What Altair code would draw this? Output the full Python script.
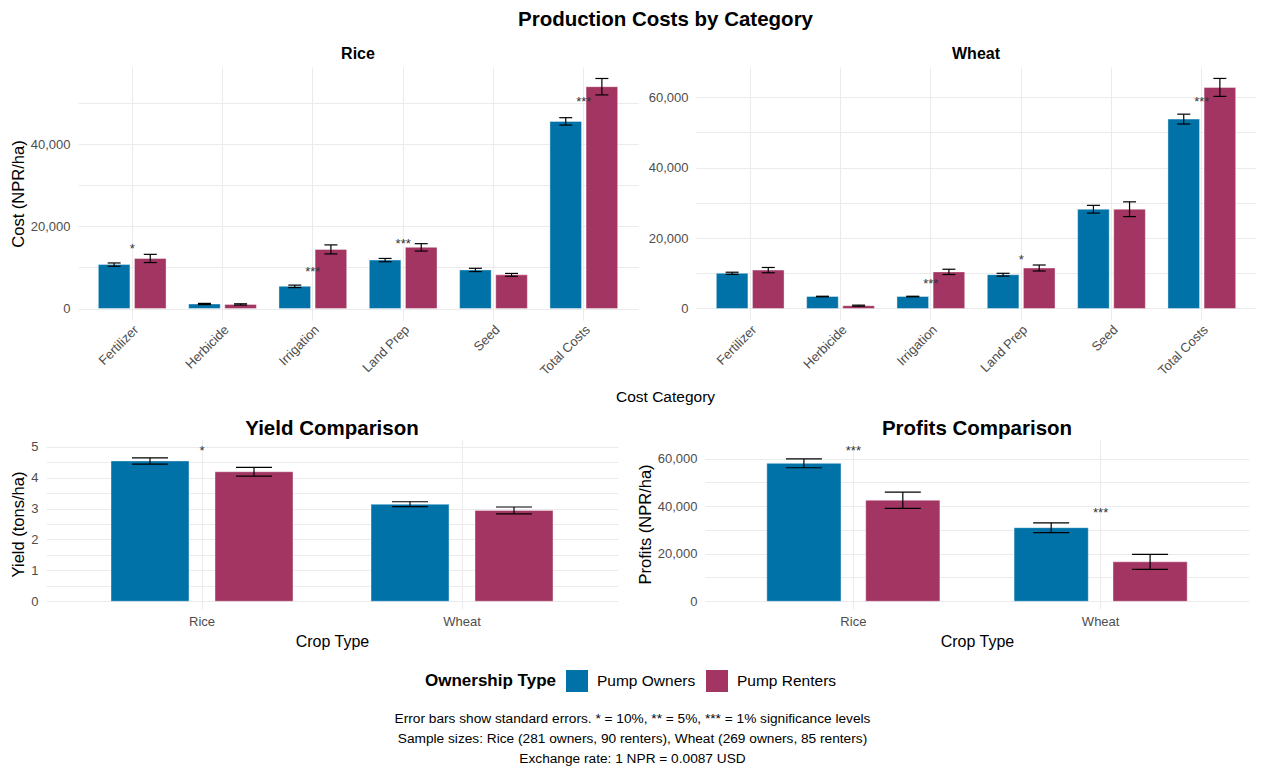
import altair as alt
import pandas as pd

# ---------------- data ----------------
categories = ["Fertilizer", "Herbicide", "Irrigation", "Land Prep", "Seed", "Total Costs"]
groups = ["Pump Owners", "Pump Renters"]
colors = ["#0072A8", "#A23562"]

rice_owner_cost = [10700, 1100, 5400, 11800, 9400, 45600]
rice_owner_se = [400, 150, 300, 400, 400, 900]
rice_renter_cost = [12200, 1000, 14400, 14900, 8200, 54050]
rice_renter_se = [1000, 150, 1100, 900, 350, 2000]

wheat_owner_cost = [10000, 3400, 3400, 9600, 28200, 53800]
wheat_owner_se = [300, 80, 80, 400, 1100, 1400]
wheat_renter_cost = [10900, 800, 10400, 11500, 28200, 62800]
wheat_renter_se = [750, 150, 750, 850, 2100, 2550]

rice_sig_cat = ["Fertilizer", "Irrigation", "Land Prep", "Total Costs"]
rice_sig_label = ["*", "***", "***", "***"]
rice_sig_y = [15400, 9900, 16700, 51200]

wheat_sig_cat = ["Irrigation", "Land Prep", "Total Costs"]
wheat_sig_label = ["***", "*", "***"]
wheat_sig_y = [8200, 14800, 59800]

crops = ["Rice", "Wheat"]
yield_owner = [4.54, 3.14]
yield_owner_se = [0.10, 0.08]
yield_renter = [4.19, 2.94]
yield_renter_se = [0.14, 0.11]

profit_owner = [58000, 30950]
profit_owner_se = [1850, 2050]
profit_renter = [42500, 16600]
profit_renter_se = [3400, 3150]

yield_sig_crop = ["Rice"]
yield_sig_label = ["*"]
yield_sig_y = [5.0]

profit_sig_crop = ["Rice", "Wheat"]
profit_sig_label = ["***", "***"]
profit_sig_y = [65000, 39000]

caption_lines = [
    "Error bars show standard errors. * = 10%, ** = 5%, *** = 1% significance levels",
    "Sample sizes: Rice (281 owners, 90 renters), Wheat (269 owners, 85 renters)",
    "Exchange rate: 1 NPR = 0.0087 USD",
]

# ---------------- helpers ----------------
GRID = "#EBEBEB"
LABEL = "#4D4D4D"
FONT = "Liberation Sans"


def long_df(cats, field, owner, owner_se, renter, renter_se):
    rows = []
    for i, c in enumerate(cats):
        for g, v, s in ((groups[0], owner[i], owner_se[i]), (groups[1], renter[i], renter_se[i])):
            rows.append({field: c, "group": g, "value": v, "lo": v - s, "hi": v + s})
    return pd.DataFrame(rows)


def sig_df(cats, field, labels, ys):
    return pd.DataFrame({field: cats, "label": labels, "y": ys})


def spacer():
    # invisible 1px cell used only to anchor the grid layout at the left edge
    return alt.Chart(pd.DataFrame({"v": [0]})).mark_point(opacity=0, size=1).encode(
        x=alt.X("v:Q", axis=None), y=alt.Y("v:Q", axis=None)
    ).properties(width=1, height=1)


legend = alt.Legend(
    title="Ownership Type", orient="none", direction="horizontal", titleOrient="left",
    legendX=416, legendY=603, symbolType="square", symbolSize=484, symbolStrokeWidth=0,
    symbolOpacity=1, labelFontSize=15.5, labelColor="black", titleFontSize=17,
    titleFontWeight="bold", titleColor="black", columnPadding=10, labelOffset=9,
    titlePadding=10, labelFont=FONT, titleFont=FONT,
)


def panel(df, sig, field, order, ydomain, yvals, label_mod, fmt, width, height,
          title, title_size, title_offset, ytitle, xtitle, angle, cap, bar_frac):
    pi = 1 - bar_frac / 0.4
    po = pi / 2
    if angle:
        xaxis = alt.Axis(title=xtitle, labelAngle=angle, labelAlign="right", labelBaseline="top",
                         grid=True, gridColor=GRID, gridWidth=1, bandPosition=0.5, domain=False,
                         ticks=False, labelColor=LABEL, labelFontSize=13, labelPadding=3,
                         titleFontSize=15.5, titleFontWeight="normal", titleColor="black")
    else:
        xaxis = alt.Axis(title=xtitle, labelAngle=0, grid=True, gridColor=GRID, gridWidth=1,
                         bandPosition=0.5, domain=False, ticks=False, labelColor=LABEL,
                         labelFontSize=13, labelPadding=6, titleFontSize=16,
                         titleFontWeight="normal", titleColor="black", titlePadding=5)
    x = alt.X(f"{field}:N", sort=order,
              scale=alt.Scale(domain=order, paddingInner=0.2, paddingOuter=0.2), axis=xaxis)
    xo = alt.XOffset("group:N", sort=groups,
                     scale=alt.Scale(domain=groups, paddingInner=pi, paddingOuter=po))
    yaxis = alt.Axis(title=ytitle, values=yvals, tickCount=len(yvals),
                     labelExpr=f"datum.value % {label_mod} === 0 ? format(datum.value, '{fmt}') : ''",
                     grid=True, gridColor=GRID, gridWidth=1, domain=False, ticks=False,
                     labelColor=LABEL, labelFontSize=13, labelPadding=8, labelOverlap=False,
                     titleFontSize=16.5, titleFontWeight="normal", titleColor="black", titlePadding=4)
    yscale = alt.Scale(domain=ydomain, nice=False, zero=False)

    def Y(f):
        return alt.Y(f"{f}:Q", scale=yscale, axis=yaxis)

    base = alt.Chart(df)
    bars = base.mark_bar(stroke="#FFFFFF", strokeWidth=0.8, strokeOpacity=0.5).encode(
        x=x, xOffset=xo, y=Y("value"),
        color=alt.Color("group:N", scale=alt.Scale(domain=groups, range=colors), legend=legend),
    )
    rules = base.mark_rule(color="black", strokeWidth=1.2).encode(
        x=x, xOffset=xo, y=Y("lo"), y2="hi:Q")
    cap_lo = base.mark_tick(orient="horizontal", size=cap, thickness=1.2, color="black", opacity=1).encode(
        x=x, xOffset=xo, y=Y("lo"))
    cap_hi = base.mark_tick(orient="horizontal", size=cap, thickness=1.2, color="black", opacity=1).encode(
        x=x, xOffset=xo, y=Y("hi"))
    stars = alt.Chart(sig).mark_text(fontSize=13, color="#333333", dy=4, font=FONT).encode(
        x=x, y=Y("y"), text="label:N")
    return alt.layer(bars, rules, cap_lo, cap_hi, stars).properties(
        width=width, height=height,
        title=alt.TitleParams(title, fontSize=title_size, fontWeight="bold", anchor="middle",
                              offset=title_offset, color="black", font=FONT),
    )


rice_df = long_df(categories, "category", rice_owner_cost, rice_owner_se, rice_renter_cost, rice_renter_se)
wheat_df = long_df(categories, "category", wheat_owner_cost, wheat_owner_se, wheat_renter_cost, wheat_renter_se)
yield_df = long_df(crops, "crop", yield_owner, yield_owner_se, yield_renter, yield_renter_se)
profit_df = long_df(crops, "crop", profit_owner, profit_owner_se, profit_renter, profit_renter_se)

rice = panel(rice_df, sig_df(rice_sig_cat, "category", rice_sig_label, rice_sig_y), "category",
             categories, [-2800, 58850], list(range(0, 50001, 10000)), 20000, ",", 560, 253,
             "Rice", 16, 5, "Cost (NPR/ha)", None, -45, 13, 0.35)
wheat = panel(wheat_df, sig_df(wheat_sig_cat, "category", wheat_sig_label, wheat_sig_y), "category",
              categories, [-3270, 68600], list(range(0, 60001, 10000)), 20000, ",", 560, 253,
              "Wheat", 16, 5, None, None, -45, 13, 0.35)
yld = panel(yield_df, sig_df(yield_sig_crop, "crop", yield_sig_label, yield_sig_y), "crop",
            crops, [-0.25, 5.25], [v / 2 for v in range(0, 11)], 1, "d", 572, 170,
            "Yield Comparison", 20.5, 0, "Yield (tons/ha)", "Crop Type", 0, 36, 0.3)
prof = panel(profit_df, sig_df(profit_sig_crop, "crop", profit_sig_label, profit_sig_y), "crop",
             crops, [-3250, 68250], list(range(0, 60001, 10000)), 20000, ",", 544, 170,
             "Profits Comparison", 20.5, 0, "Profits (NPR/ha)", "Crop Type", 0, 36, 0.3)

top_inner = alt.hconcat(rice, wheat, spacing=10).resolve_scale(xOffset="independent")
top_row = alt.hconcat(spacer(), top_inner, spacing=0).resolve_scale(xOffset="independent").properties(
    title=alt.TitleParams("Cost Category", orient="bottom", anchor="middle", fontSize=15.5,
                          fontWeight="normal", color="black", offset=12, dx=33, font=FONT))
top_block = alt.vconcat(top_row).resolve_scale(xOffset="independent").properties(
    title=alt.TitleParams("Production Costs by Category", anchor="middle", fontSize=20.5,
                          fontWeight="bold", color="black", offset=16, dx=33, font=FONT))
bottom_inner = alt.hconcat(yld, prof, spacing=19).resolve_scale(xOffset="independent")
bottom_row = alt.hconcat(spacer(), bottom_inner, spacing=0).resolve_scale(xOffset="independent")
bottom_block = alt.vconcat(bottom_row).resolve_scale(xOffset="independent")

chart = alt.vconcat(top_block, bottom_block, spacing=12).resolve_scale(
    xOffset="independent").properties(
    title=alt.TitleParams(caption_lines, orient="bottom", anchor="middle", fontSize=13.7,
                          fontWeight="normal", color="black", lineHeight=20, offset=20, font=FONT),
    padding={"left": 9, "top": 9, "right": 3, "bottom": 1},
).configure(font=FONT).configure_view(stroke=None)

chart.save("out.html", embed_options={"renderer": "svg", "actions": False})
